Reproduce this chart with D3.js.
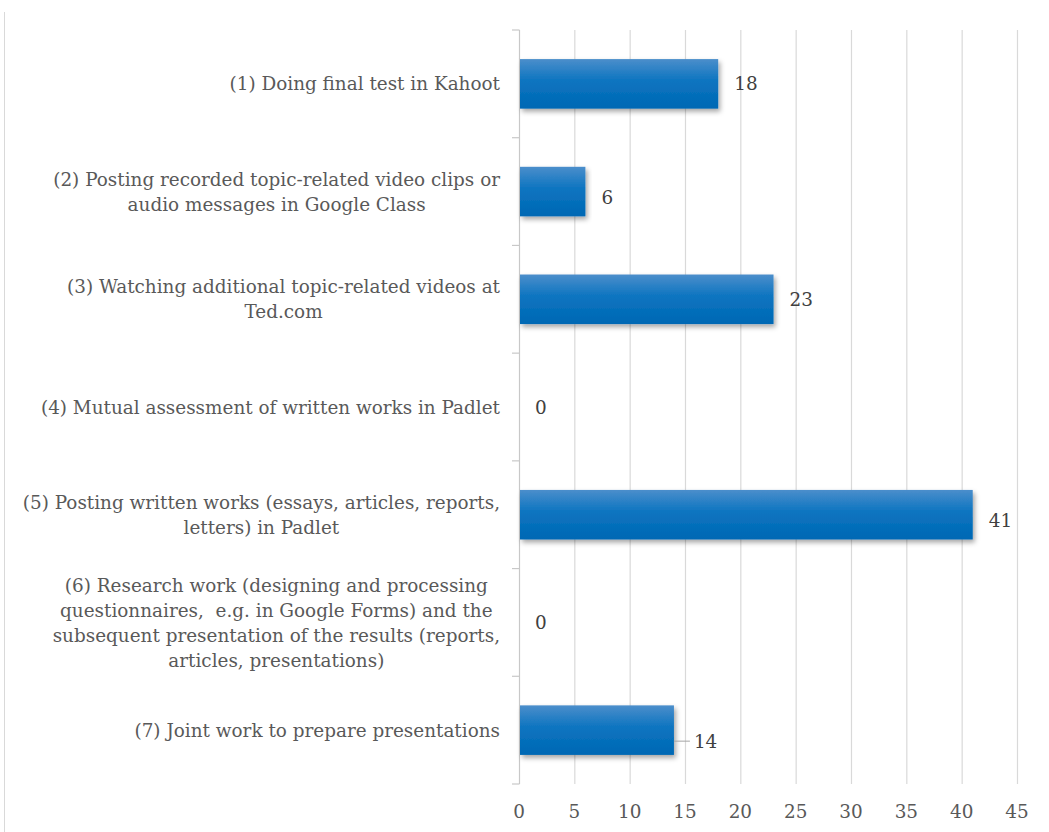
<!DOCTYPE html>
<html>
<head>
<meta charset="utf-8">
<script src="https://cdn.jsdelivr.net/npm/d3@7"></script>
<style>
  body { margin: 0; background: #fff; }
  svg { display: block; }
  text { white-space: pre; }
</style>
</head>
<body>
<svg id="chart" width="1049" height="832"></svg>
<script>
// categories (top to bottom), each label already split in lines
const categories = [
  ["(1) Doing final test in Kahoot"],
  ["(2) Posting recorded topic-related video clips or", "audio messages in Google Class"],
  ["(3) Watching additional topic-related videos at", "Ted.com"],
  ["(4) Mutual assessment of written works in Padlet"],
  ["(5) Posting written works (essays, articles, reports,", "letters) in Padlet"],
  ["(6) Research work (designing and processing", "questionnaires,  e.g. in Google Forms) and the", "subsequent presentation of the results (reports,", "articles, presentations)"],
  ["(7) Joint work to prepare presentations"]
];
const values = [18, 6, 23, 0, 41, 0, 14];
const xTicks = [0, 5, 10, 15, 20, 25, 30, 35, 40, 45];

const svg = d3.select("#chart");
const font = "'DejaVu Serif', serif";
const fs = 18.4;

const x = d3.scaleLinear().domain([0, 45]).range([519, 1017]);
const y = d3.scaleBand()
  .domain(d3.range(categories.length))
  .range([30, 784])
  .paddingInner(0.54)
  .paddingOuter(0.27);

// bar gradient + soft shadow
const defs = svg.append("defs");
const grad = defs.append("linearGradient")
  .attr("id", "barGrad").attr("x1", 0).attr("y1", 0).attr("x2", 0).attr("y2", 1);
grad.append("stop").attr("offset", "0%").attr("stop-color", "#4b8ecb");
grad.append("stop").attr("offset", "45%").attr("stop-color", "#0b74c0");
grad.append("stop").attr("offset", "100%").attr("stop-color", "#0068b4");

const shadow = defs.append("filter").attr("id", "shadow")
  .attr("x", "-5%").attr("y", "-20%").attr("width", "115%").attr("height", "150%");
shadow.append("feDropShadow")
  .attr("dx", 2).attr("dy", 3).attr("stdDeviation", 2.5)
  .attr("flood-color", "#000").attr("flood-opacity", 0.35);

// outer frame edge on the left
svg.append("line")
  .attr("x1", 4.5).attr("x2", 4.5).attr("y1", 12).attr("y2", 832)
  .attr("stroke", "#d9d9d9").attr("stroke-width", 1);

// vertical gridlines
svg.append("g")
  .selectAll("line")
  .data(xTicks.filter(d => d > 0))
  .join("line")
  .attr("x1", d => x(d) + 0.5).attr("x2", d => x(d) + 0.5)
  .attr("y1", 30).attr("y2", 784)
  .attr("stroke", "#d9d9d9").attr("stroke-width", 1.2);

// category axis with ticks at band boundaries
const step = y.step();
const bounds = d3.range(categories.length + 1).map(i => y.range()[0] + i * step);
svg.append("line")
  .attr("x1", x(0) + 0.5).attr("x2", x(0) + 0.5)
  .attr("y1", 30).attr("y2", 784)
  .attr("stroke", "#c8c8c8").attr("stroke-width", 1.2);
svg.append("g")
  .selectAll("line")
  .data(bounds)
  .join("line")
  .attr("x1", x(0) - 7).attr("x2", x(0) + 0.5)
  .attr("y1", d => d).attr("y2", d => d)
  .attr("stroke", "#c8c8c8").attr("stroke-width", 1.2);

// x tick labels
svg.append("g")
  .selectAll("text")
  .data(xTicks)
  .join("text")
  .attr("x", d => x(d))
  .attr("y", 818)
  .attr("text-anchor", "middle")
  .attr("font-family", font)
  .attr("font-size", fs)
  .attr("fill", "#595959")
  .text(d => d);

// bars
svg.append("g")
  .selectAll("rect")
  .data(values)
  .join("rect")
  .attr("x", x(0) + 1)
  .attr("y", (d, i) => y(i))
  .attr("width", d => Math.max(0, x(d) - x(0) - 1))
  .attr("height", y.bandwidth())
  .attr("fill", "url(#barGrad)")
  .attr("filter", "url(#shadow)");

// value labels (the 14 one sits slightly lower with a leader line)
const nudge = {1: 6, 4: 6, 6: 11};
values.forEach((v, i) => {
  const cy = y(i) + y.bandwidth() / 2 + (nudge[i] || 0);
  let lx = x(v) + 16;
  if (i === 6) {
    svg.append("line")
      .attr("x1", x(v)).attr("x2", x(v) + 16)
      .attr("y1", cy).attr("y2", cy)
      .attr("stroke", "#a6a6a6").attr("stroke-width", 1);
    lx = x(v) + 20;
  }
  svg.append("text")
    .attr("x", lx)
    .attr("y", cy)
    .attr("dy", "0.36em")
    .attr("font-family", font)
    .attr("font-size", fs)
    .attr("fill", "#404040")
    .text(v);
});

// category labels: lines centred on each other, widest line ends at x=500
const lineH = 25;
categories.forEach((lines, i) => {
  const cy = y(i) + y.bandwidth() / 2;
  const g = svg.append("g");
  const t = g.append("text")
    .attr("font-family", font)
    .attr("font-size", fs)
    .attr("fill", "#595959")
    .attr("text-anchor", "middle");
  const top = cy - (lines.length - 1) * lineH / 2;
  lines.forEach((ln, k) => {
    t.append("tspan")
      .attr("x", 0)
      .attr("y", top + k * lineH)
      .attr("dy", "0.36em")
      .text(ln);
  });
  let w = 0;
  t.selectAll("tspan").each(function() { w = Math.max(w, this.getComputedTextLength()); });
  g.attr("transform", `translate(${500 - w / 2},0)`);
});
</script>
</body>
</html>
